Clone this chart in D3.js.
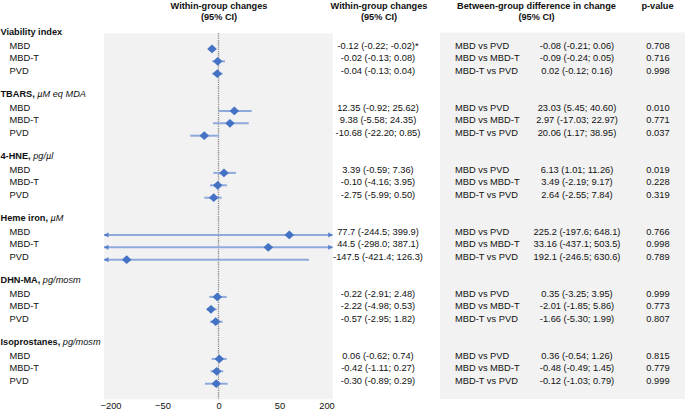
<!DOCTYPE html>
<html><head><meta charset="utf-8">
<script src="https://cdn.jsdelivr.net/npm/d3@7"></script>
<style>
html,body{margin:0;padding:0;background:#fff;}
svg{display:block;font-family:"Liberation Sans",Arial,sans-serif;}
</style></head>
<body>
<svg id="chart" width="685" height="412"></svg>
<script>
// ---------------- data ----------------
const outcomes = ["Viability index", "TBARS", "4-HNE", "Heme iron", "DHN-MA", "Isoprostanes"];
const units = ["", "µM eq MDA", "pg/µl", "µM", "pg/mosm", "pg/mosm"];
const groups = ["MBD", "MBD-T", "PVD"];
const comparisons = ["MBD vs PVD", "MBD vs MBD-T", "MBD-T vs PVD"];

// plotted positions (axis units), 3 rows per outcome
const plotEst = [-5.8, -0.7, -1.1,   13.0, 9.4, -12.7,   4.5, -0.7, -4.3,   81.3, 40.8, -153.3,   -1.1, -6.7, -2.5,   0.7, -1.6, -2.0];
const plotLo  = [-8.5, -5.5, -5.5,   0.2, -4.9, -25.2,  -4.6, -7.6, -12.7, -244.5, -298.0, -421.4, -8.2, -10.5, -7.6, -6.1, -7.0, -12.1];
const plotHi  = [-3.0, 5.3, 3.4,     27.2, 24.8, 0.4,   14.3, 7.0, 2.6,    399.9, 387.1, 144.1,   6.7, -1.6, 3.4,    6.7, 3.9, 7.5];

const withinText = [
  "-0.12 (-0.22; -0.02)*", "-0.02 (-0.13; 0.08)", "-0.04 (-0.13; 0.04)",
  "12.35 (-0.92; 25.62)", "9.38 (-5.58; 24.35)", "-10.68 (-22.20; 0.85)",
  "3.39 (-0.59; 7.36)", "-0.10 (-4.16; 3.95)", "-2.75 (-5.99; 0.50)",
  "77.7 (-244.5; 399.9)", "44.5 (-298.0; 387.1)", "-147.5 (-421.4; 126.3)",
  "-0.22 (-2.91; 2.48)", "-2.22 (-4.98; 0.53)", "-0.57 (-2.95; 1.82)",
  "0.06 (-0.62; 0.74)", "-0.42 (-1.11; 0.27)", "-0.30 (-0.89; 0.29)"
];
const betweenText = [
  "-0.08 (-0.21; 0.06)", "-0.09 (-0.24; 0.05)", "0.02 (-0.12; 0.16)",
  "23.03 (5.45; 40.60)", "2.97 (-17.03; 22.97)", "20.06 (1.17; 38.95)",
  "6.13 (1.01; 11.26)", "3.49 (-2.19; 9.17)", "2.64 (-2.55; 7.84)",
  "225.2 (-197.6; 648.1)", "33.16 (-437.1; 503.5)", "192.1 (-246.5; 630.6)",
  "0.35 (-3.25; 3.95)", "-2.01 (-1.85; 5.86)", "-1.66 (-5.30; 1.99)",
  "0.36 (-0.54; 1.26)", "-0.48 (-0.49; 1.45)", "-0.12 (-1.03; 0.79)"
];
const pValues = [
  "0.708", "0.716", "0.998",
  "0.010", "0.771", "0.037",
  "0.019", "0.228", "0.319",
  "0.766", "0.998", "0.789",
  "0.999", "0.773", "0.807",
  "0.815", "0.779", "0.999"
];
const xTicks = [-200, -50, 0, 50, 200];

// ---------------- layout ----------------
const svg = d3.select("#chart");
const W = 685, H = 412;
const plotL = 104, plotR = 332.7, plotT = 33.3, plotB = 399.3;
const x = d3.scaleLinear().domain(xTicks).range([110.5, 162.5, 218.5, 279.5, 326.5]);
const y = d3.scaleLinear().domain([0, 1]).range([36.3, 48.7]);
const rowIndex = (g, k) => g * 5 + 1 + k;

const fs = 9.3, fsB = 9.2, txt = "#111";
const blue = "#4472c4", barBlue = "#8eaadb";

// backgrounds
svg.append("rect").attr("x", plotL).attr("y", plotT).attr("width", plotR - plotL).attr("height", plotB - plotT).attr("fill", "#f2f2f2");
svg.append("rect").attr("x", 440).attr("y", 32.5).attr("width", W - 440).attr("height", 399 - 32.5).attr("fill", "#f2f2f2");

// column headers
const headers = [
  {cx: 219, l1: "Within-group changes", l2: "(95% CI)"},
  {cx: 379, l1: "Within-group changes", l2: "(95% CI)"},
  {cx: 536.5, l1: "Between-group difference in change", l2: "(95% CI)"},
  {cx: 657.5, l1: "p-value", l2: ""}
];
headers.forEach(h => {
  svg.append("text").attr("x", h.cx).attr("y", 8.6).attr("text-anchor", "middle")
    .attr("font-size", fsB).attr("font-weight", "bold").attr("fill", txt).text(h.l1);
  if (h.l2) svg.append("text").attr("x", h.cx).attr("y", 20.4).attr("text-anchor", "middle")
    .attr("font-size", fsB).attr("font-weight", "bold").attr("fill", txt).text(h.l2);
});

// zero line
svg.append("line").attr("x1", x(0)).attr("x2", x(0)).attr("y1", plotT).attr("y2", plotB)
  .attr("stroke", "#8c8c8c").attr("stroke-width", 1.3).attr("stroke-dasharray", "1.3,0.9");

// left labels
outcomes.forEach((o, g) => {
  const t = svg.append("text").attr("x", 0.5).attr("y", y(g * 5) - 1).attr("font-size", fsB).attr("fill", txt);
  t.append("tspan").attr("font-weight", "bold").text(o + (units[g] ? ", " : ""));
  if (units[g]) t.append("tspan").attr("font-style", "italic").text(units[g]);
  groups.forEach((gr, k) => {
    svg.append("text").attr("x", 9.5).attr("y", y(rowIndex(g, k))).attr("font-size", fs).attr("fill", txt).text(gr);
  });
});

// forest marks
const xMin = x.invert(plotL), xMax = x.invert(plotR);
plotEst.forEach((est, i) => {
  const g = Math.floor(i / 3), k = i % 3;
  const yy = y(rowIndex(g, k)) + 0.2;
  const lo = Math.max(plotLo[i], xMin), hi = Math.min(plotHi[i], xMax);
  svg.append("line").attr("x1", x(lo)).attr("x2", x(hi)).attr("y1", yy).attr("y2", yy)
    .attr("stroke", barBlue).attr("stroke-width", 2);
  if (plotLo[i] < xMin) {
    const ax = x(xMin);
    svg.append("path").attr("d", `M${ax},${yy} L${ax + 4.5},${yy - 2.6} L${ax + 4.5},${yy + 2.6} Z`).attr("fill", blue).attr("opacity", 0.8);
  }
  if (plotHi[i] > xMax) {
    const ax = x(xMax);
    svg.append("path").attr("d", `M${ax},${yy} L${ax - 4.5},${yy - 2.6} L${ax - 4.5},${yy + 2.6} Z`).attr("fill", blue).attr("opacity", 0.8);
  }
  const cx = x(est);
  svg.append("path").attr("d", `M${cx - 4.8},${yy} L${cx},${yy - 4.4} L${cx + 4.8},${yy} L${cx},${yy + 4.4} Z`).attr("fill", blue);
});

// x axis tick labels
const axis = d3.axisBottom(x).tickValues(xTicks).tickSize(0).tickPadding(0).tickFormat(d3.format("d"));
const ax = svg.append("g").attr("transform", `translate(0,${plotB + 3})`).call(axis);
ax.select(".domain").remove();
ax.selectAll("text").attr("font-size", fs).attr("fill", txt).attr("font-family", "Liberation Sans, Arial, sans-serif");

// table text
withinText.forEach((s, i) => {
  const g = Math.floor(i / 3), k = i % 3, yy = y(rowIndex(g, k));
  svg.append("text").attr("x", 378).attr("y", yy).attr("text-anchor", "middle").attr("font-size", fs).attr("fill", txt).text(s);
  svg.append("text").attr("x", 455).attr("y", yy).attr("font-size", fs).attr("fill", txt).text(comparisons[k]);
  svg.append("text").attr("x", 577).attr("y", yy).attr("text-anchor", "middle").attr("font-size", fs).attr("fill", txt).text(betweenText[i]);
  svg.append("text").attr("x", 658).attr("y", yy).attr("text-anchor", "middle").attr("font-size", fs).attr("fill", txt).text(pValues[i]);
});
</script>
</body></html>
